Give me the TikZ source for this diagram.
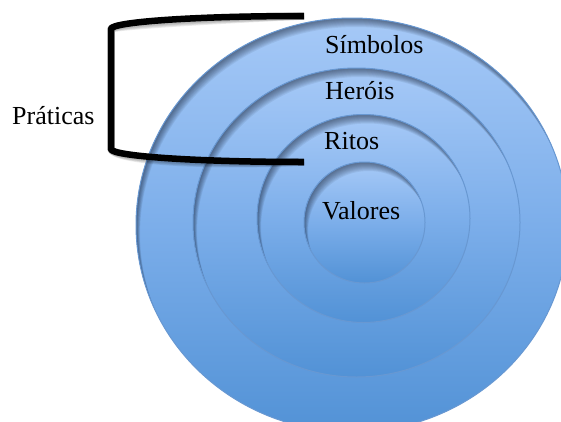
\documentclass[tikz,border=0pt]{standalone}
\usepackage{fontspec}
\setmainfont{Liberation Serif}
\definecolor{topc}{RGB}{166,201,247}
\definecolor{midc}{RGB}{124,174,234}
\definecolor{botc}{RGB}{82,146,214}
\definecolor{edgec}{RGB}{104,152,210}
\definecolor{shadowc}{RGB}{20,30,50}
\newcommand\myDisk[4]{%
  \shade[top color=topc, bottom color=botc, middle color=midc] (#1,#2) ellipse [x radius=#3, y radius=#4];
  \begin{scope}
    \clip (#1,#2) ellipse [x radius=#3, y radius=#4];
    \foreach \d in {1,...,9} {
      \fill[shadowc, opacity=0.075, even odd rule] (#1-400,#2-400) rectangle (#1+400,#2+400) (#1+0.45*\d,#2+\d) ellipse [x radius=#3, y radius=#4];
    }
  \end{scope}
  \draw[edgec, line width=1] (#1,#2) ellipse [x radius=#3, y radius=#4];
}
\begin{document}
\begin{tikzpicture}[x=1pt,y=-1pt,
  lbl/.style={anchor=base west, inner sep=0pt, font=\fontsize{26}{30}\selectfont, text=black},
  brk/.style={line width=6.5, line cap=butt, line join=round},
  brkshadow/.style={line width=7.5, line cap=butt, line join=round, draw=black, opacity=0.08}]
\useasboundingbox (0,0) rectangle (561,421);
\clip (0,0) rectangle (561,421);
% concentric disks
\myDisk{352}{225}{216}{207}
\myDisk{356.5}{222.5}{163.5}{154.5}
\myDisk{363.5}{218.5}{106.5}{104}
\myDisk{364.5}{222.5}{60.5}{60.5}
% labels
\node[lbl] (simbolos) at (325,53) {Símbolos};
\node[lbl] (herois) at (325,99) {Heróis};
\node[lbl] (ritos) at (324,149) {Ritos};
\node[lbl] (valores) at (322,219) {Valores};
\node[lbl] (praticas) at (12,124) {Práticas};
% bracket
\coordinate (bt) at (304,16);
\coordinate (bc1) at (111,29);
\coordinate (bc2) at (111,149);
\coordinate (bb) at (304,162);
\foreach \s in {1,2,3,4} {
  \draw[brkshadow, shift={(0.8*\s,1.2*\s)}] (bt) .. controls (197.5,16) and (111,21.8) .. (bc1) -- (bc2) .. controls (111,156.2) and (197.5,162) .. (bb);
}
\draw[brk] (bt) .. controls (197.5,16) and (111,21.8) .. (bc1) -- (bc2) .. controls (111,156.2) and (197.5,162) .. (bb);
\end{tikzpicture}
\end{document}
